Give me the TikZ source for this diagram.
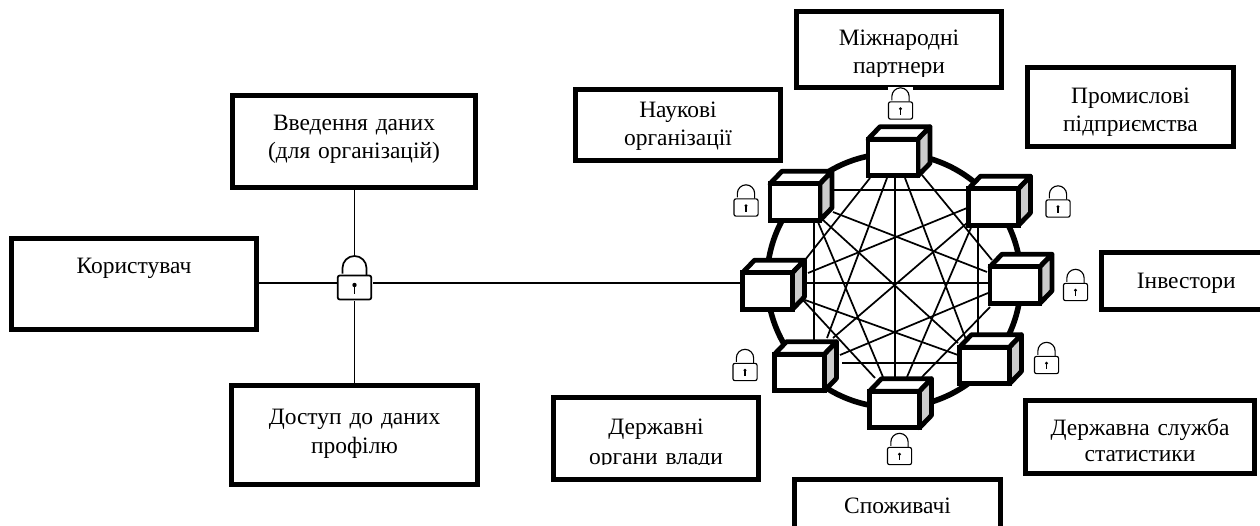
\documentclass[tikz,border=0pt]{standalone}
\usepackage{fontspec}
\setmainfont{Liberation Serif}
\usetikzlibrary{calc}
\pgfdeclarelayer{bg}
\pgfsetlayers{bg,main}
\definecolor{cubegrey}{gray}{0.8}
\tikzset{
  px/.style={x=0.75pt,y=-0.75pt},
  infobox/.style={draw=black,line width=3.75pt,fill=white,inner sep=0pt,outer sep=0pt,align=center,
    font=\fontsize{17.6}{21}\selectfont},
  cubeface/.style={draw=black,line width=3.6pt,fill=white,inner sep=0pt,outer sep=0pt,minimum width=37.5pt,minimum height=27.5pt},
  cubeedge/.style={draw=black,line width=3.6pt,line join=round},
  ringline/.style={draw=black,line width=4.2pt},
  netline/.style={draw=black,line width=1.3pt},
  linkline/.style={draw=black,line width=1.3pt},
  lockline/.style={draw=black},
}
% name, x1, y1, x2, y2, first baseline, text
\newcommand\infobox[7]{%
  \pgfmathsetmacro\bw{(#4-#2)*0.75}%
  \pgfmathsetmacro\bh{(#6-#3)*0.75}%
  \pgfmathsetmacro\bd{(#5-#6)*0.75}%
  \pgfmathsetmacro\bcx{(#2+#4)/2}%
  \pgfmathsetmacro\bcy{(#3+#5)/2}%
  \node[infobox,text width=\bw pt,text height=\bh pt,text depth=\bd pt] (#1) at (\bcx,\bcy) {#7};%
}
\newcommand\netcube[3]{%
  \draw[cubeedge,fill=white] ($(#2,#3)+(-25,-18.3)$) -- ++(12,-12.5) -- ++(50,0) -- ++(-12,12.5) -- cycle;%
  \draw[cubeedge,fill=cubegrey] ($(#2,#3)+(25,-18.3)$) -- ++(12,-12.5) -- ++(0,36.6) -- ++(-12,12.5) -- cycle;%
  \node[cubeface] (#1) at (#2,#3) {};%
}
\newcommand\netedge[6]{%
  \draw[netline] ([shift={(#2,#3)}]#1.center) -- ([shift={(#5,#6)}]#4.center);%
}
% name, x, y (body centre), scale, line width
\newcommand\padlock[5]{%
  \begin{scope}[shift={(#2,#3)}]
    \pgfmathsetmacro\ls{#4}%
    \fill[white] ({-18*\ls},{-32.5*\ls}) rectangle ({18*\ls},{13*\ls});
    \draw[lockline,line width=#5]
      ({-12*\ls},{-14*\ls}) -- ({-12*\ls},{-19.5*\ls})
      .. controls ({-12*\ls},{-26.13*\ls}) and ({-6.63*\ls},{-31.5*\ls}) .. (0,{-31.5*\ls})
      .. controls ({6.63*\ls},{-31.5*\ls}) and ({12*\ls},{-26.13*\ls}) .. ({12*\ls},{-19.5*\ls})
      -- ({12*\ls},{-12.5*\ls});
    \pgfmathsetmacro\lw{33.5*\ls*0.75}%
    \pgfmathsetmacro\lh{24*\ls*0.75}%
    \node[draw=black,fill=white,line width=#5,rounded corners=1.5pt,inner sep=0pt,outer sep=0pt,
      minimum width=\lw pt,minimum height=\lh pt] (#1) at (0,0) {};
    \draw[lockline,line width=#5] (0,{-2*\ls}) -- (0,{6*\ls});
    \fill[black] (0,{-2.5*\ls}) circle ({2.2*\ls*0.75pt});
  \end{scope}%
}
\begin{document}
\begin{tikzpicture}[px]
\clip (0,0) rectangle (1260,525);
% text boxes
\infobox{user}{11.5}{238.5}{256.5}{329.5}{273}{Користувач}
\infobox{input}{232.5}{95.5}{475.5}{187.5}{130}{Введення даних\\(для організацій)}
\infobox{access}{231.5}{385.5}{477.5}{484}{424}{Доступ до даних\\[1pt]профілю}
\infobox{science}{575.5}{89.5}{780.5}{160.5}{117}{Наукові\\організації}
\infobox{partners}{796.5}{11.5}{1001.5}{87.5}{45}{Міжнародні\\партнери}
\infobox{industry}{1027.5}{67.5}{1233.5}{146.5}{103}{Промислові\\підприємства}
\infobox{investors}{1101.5}{252.5}{1271}{309.5}{288}{Інвестори}
\infobox{state}{553.5}{397.5}{758.5}{479.5}{434}{Державні\\[1.5pt]органи влади}
\infobox{stats}{1025.5}{400.5}{1254.5}{473.5}{435}{Державна служба\\[-1.5pt]статистики}
\infobox{consumers}{794.5}{479.5}{1000.5}{540}{513}{Споживачі}
\fill[white] (799,77) rectangle (999,85);
\fill[white] (556,465) rectangle (756,477);
% network cubes
\netcube{T}{893}{157.5}
\netcube{LU}{795}{202}
\netcube{RU}{993.5}{207}
\netcube{R}{1015}{285}
\netcube{L}{767.5}{291}
\netcube{LL}{799.5}{372.5}
\netcube{LR}{984.5}{365.5}
\netcube{B}{894.5}{409.5}
\coordinate (hub) at (354.5,283);
\begin{pgfonlayer}{bg}
  \node[ringline,circle,minimum size=190.5pt,inner sep=0pt] (ring) at (894,280.5) {};
  \draw[linkline] (user.east |- hub) -- (hub);
  \draw[linkline] (hub) -- (L.west |- hub);
  \draw[linkline] (input.south -| hub) -- (hub);
  \draw[linkline] (hub) -- (access.north -| hub);
  \netedge{LU}{39}{-12}{RU}{-26.5}{-17}
  \netedge{L}{32}{-8}{R}{-25}{-2}
  \netedge{LL}{42.5}{-9.5}{LR}{-24.5}{-2.5}
  \netedge{LU}{19}{20}{LL}{14.5}{-32.5}
  \netedge{RU}{-15.5}{18}{LR}{-6.5}{-20.5}
  \netedge{T}{2}{20}{B}{0.5}{-26.5}
  \netedge{LU}{28}{18}{LR}{-26.5}{-22.5}
  \netedge{RU}{-26.5}{16}{LL}{33.5}{-34.5}
  \netedge{LU}{38}{10}{R}{-28}{-13}
  \netedge{RU}{-26.5}{1}{L}{40.5}{-18}
  \netedge{T}{-23}{20.5}{L}{37.5}{-31}
  \netedge{T}{29}{17.5}{R}{-23}{-25}
  \netedge{T}{-6}{20.5}{LL}{27.5}{-34.5}
  \netedge{T}{12}{20.5}{LR}{-16.5}{-20.5}
  \netedge{LU}{23}{20}{B}{-11.5}{-32.5}
  \netedge{RU}{-20.5}{16}{B}{12.5}{-32.5}
  \netedge{L}{37.5}{9}{LR}{-26.5}{-10.5}
  \netedge{R}{-27}{8}{LL}{40.5}{-17.5}
  \netedge{L}{35.5}{9}{B}{-19.5}{-31.5}
  \netedge{R}{-25}{22}{B}{27.5}{-32.5}
\end{pgfonlayer}
% padlocks
\padlock{lockmain}{354.5}{287.5}{1}{1.3pt}
\padlock{lockT}{900.5}{110.5}{0.72}{0.85pt}
\padlock{lockLU}{746}{207.5}{0.72}{0.85pt}
\padlock{lockRU}{1058}{208.5}{0.72}{0.85pt}
\padlock{lockR}{1075.5}{292}{0.72}{0.85pt}
\padlock{lockLR}{1046.5}{365}{0.72}{0.85pt}
\padlock{lockLL}{745}{372}{0.72}{0.85pt}
\padlock{lockB}{899.5}{456}{0.72}{0.85pt}
\end{tikzpicture}
\end{document}
